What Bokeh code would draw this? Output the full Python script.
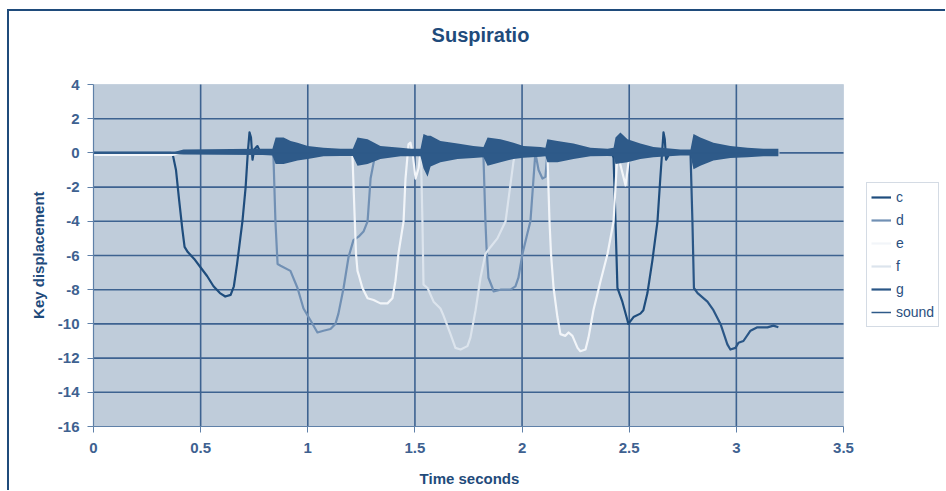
from bokeh.plotting import figure
from bokeh.models import FixedTicker, Legend, LegendItem, Label, BoxAnnotation
from bokeh.embed import file_html
from bokeh.resources import INLINE

title_text = "Suspiratio"
x_label = "Time seconds"
y_label = "Key displacement"
x_ticks = [0, 0.5, 1, 1.5, 2, 2.5, 3, 3.5]
x_tick_labels = ["0", "0.5", "1", "1.5", "2", "2.5", "3", "3.5"]
y_ticks = [4, 2, 0, -2, -4, -6, -8, -10, -12, -14, -16]
y_tick_labels = ["4", "2", "0", "-2", "-4", "-6", "-8", "-10", "-12", "-14", "-16"]
series_names = ["c", "d", "e", "f", "g", "sound"]

c_pts = [(0.0, 0.0), (0.36, 0.0), (0.37, -0.1), (0.385, -1.0), (0.40, -2.8), (0.415, -4.5),
         (0.425, -5.5), (0.44, -5.8), (0.47, -6.2), (0.50, -6.7), (0.53, -7.2), (0.56, -7.8),
         (0.59, -8.2), (0.615, -8.4), (0.64, -8.3), (0.655, -7.8), (0.67, -6.5), (0.685, -5.0),
         (0.695, -4.0), (0.71, -2.0), (0.72, 0.0), (0.728, 1.2), (0.735, 0.9), (0.742, -0.4),
         (0.75, 0.2), (0.765, 0.4), (0.78, 0.0), (2.42, 0.0), (2.427, -0.3), (2.436, -4.0),
         (2.445, -7.9), (2.468, -8.7), (2.492, -9.8), (2.496, -10.0), (2.52, -9.6), (2.552, -9.4),
         (2.566, -9.2), (2.585, -8.2), (2.608, -6.3), (2.632, -4.0), (2.645, -1.5), (2.66, 1.2),
         (2.666, 0.8), (2.672, -0.4), (2.69, 0.0), (3.2, 0.0)]

d_pts = [(0.0, 0.0), (0.835, 0.0), (0.84, -0.3), (0.849, -4.0), (0.859, -6.5), (0.873, -6.6),
         (0.919, -6.9), (0.952, -7.9), (0.98, -9.1), (1.013, -9.8), (1.045, -10.5), (1.073, -10.4),
         (1.106, -10.3), (1.129, -10.0), (1.143, -9.4), (1.167, -7.9), (1.19, -6.1), (1.213, -5.1),
         (1.237, -4.9), (1.26, -4.6), (1.279, -4.0), (1.293, -1.5), (1.316, 0.0), (1.815, 0.0),
         (1.82, -0.3), (1.829, -4.0), (1.834, -5.5), (1.843, -7.3), (1.862, -7.9), (1.867, -8.1),
         (1.899, -8.0), (1.946, -8.0), (1.969, -7.8), (1.983, -7.3), (2.002, -5.9), (2.025, -4.7),
         (2.039, -4.0), (2.062, 0.0), (2.077, -1.0), (2.095, -1.5), (2.109, -1.4), (2.118, 0.0),
         (3.2, 0.0)]

e_pts = [(0.0, -0.12), (0.37, -0.12), (0.40, 0.0), (1.208, 0.0), (1.218, -3.5), (1.225, -5.9),
         (1.232, -6.9), (1.237, -7.1), (1.255, -7.9), (1.279, -8.5), (1.307, -8.6), (1.339, -8.8),
         (1.372, -8.8), (1.395, -8.5), (1.409, -7.5), (1.423, -5.9), (1.447, -4.0), (1.456, -1.5),
         (1.47, 0.5), (1.479, 0.6), (1.489, 0.0), (1.503, -1.5), (1.517, -0.9), (1.526, 0.0),
         (2.118, 0.0), (2.128, -4.0), (2.135, -5.9), (2.147, -7.9), (2.165, -9.6), (2.179, -10.6),
         (2.202, -10.7), (2.217, -10.5), (2.235, -10.7), (2.259, -11.4), (2.272, -11.6),
         (2.296, -11.5), (2.31, -10.8), (2.333, -9.2), (2.366, -7.5), (2.399, -5.9), (2.427, -4.0),
         (2.445, 0.0), (2.465, -1.0), (2.483, -1.9), (2.496, -0.6), (2.506, 0.0), (3.2, 0.0)]

f_pts = [(0.0, 0.0), (1.528, 0.0), (1.535, -4.0), (1.54, -7.7), (1.559, -7.9), (1.587, -8.7),
         (1.619, -9.1), (1.633, -9.5), (1.666, -10.6), (1.689, -11.4), (1.713, -11.5),
         (1.745, -11.3), (1.759, -10.8), (1.783, -9.2), (1.806, -7.3), (1.829, -5.9),
         (1.853, -5.5), (1.885, -5.0), (1.923, -4.0), (1.96, -0.5), (1.969, 0.0), (3.2, 0.0)]

g_pts = [(0.0, 0.0), (2.786, 0.0), (2.795, -4.0), (2.802, -7.9), (2.819, -8.2), (2.865, -8.7),
         (2.893, -9.2), (2.926, -10.0), (2.958, -11.2), (2.972, -11.5), (2.996, -11.4),
         (3.01, -11.1), (3.033, -11.0), (3.066, -10.4), (3.098, -10.2), (3.145, -10.2),
         (3.173, -10.1), (3.196, -10.2)]

# sound waveform envelope: (time, upper, lower)
sound_env = [(0.0, 0.06, -0.06), (0.38, 0.06, -0.06), (0.42, 0.2, -0.1), (0.79, 0.25, -0.12),
             (0.835, 0.25, -0.15), (0.85, 0.9, -0.65), (0.887, 0.9, -0.65), (0.92, 0.7, -0.55),
             (0.952, 0.6, -0.45), (1.0, 0.4, -0.35), (1.073, 0.3, -0.2), (1.153, 0.25, -0.18),
             (1.21, 0.25, -0.18), (1.232, 0.9, -0.75), (1.279, 0.8, -0.65), (1.339, 0.4, -0.35),
             (1.433, 0.3, -0.2), (1.48, 0.25, -0.2), (1.526, 0.25, -0.2), (1.54, 1.1, -0.9),
             (1.559, 1.0, -1.4), (1.573, 1.0, -0.8), (1.619, 0.7, -0.55), (1.699, 0.55, -0.35),
             (1.773, 0.4, -0.3), (1.82, 0.35, -0.25), (1.839, 0.9, -0.75), (1.899, 0.8, -0.55),
             (1.96, 0.6, -0.35), (2.007, 0.4, -0.28), (2.086, 0.35, -0.22), (2.109, 0.3, -0.2),
             (2.118, 0.8, -0.55), (2.165, 0.7, -0.55), (2.24, 0.55, -0.35), (2.319, 0.3, -0.2),
             (2.399, 0.25, -0.18), (2.427, 0.3, -0.2), (2.436, 0.9, -0.65), (2.459, 1.2, -0.6),
             (2.492, 0.8, -0.55), (2.552, 0.55, -0.35), (2.613, 0.35, -0.25), (2.739, 0.2, -0.15),
             (2.786, 0.2, -0.15), (2.8, 1.1, -0.95), (2.832, 0.9, -0.75), (2.893, 0.6, -0.45),
             (2.972, 0.4, -0.3), (3.052, 0.3, -0.25), (3.126, 0.25, -0.2), (3.196, 0.25, -0.2)]

colors = {"c": "#1f4d7d", "d": "#7190b4", "e": "#f2f5f9", "f": "#dce4ed", "g": "#2a5686",
          "sound": "#2e5a89"}

TXT = "#2a4f7e"
FONT = "Liberation Sans"
FRAME = "#1f4b7b"
NBSP = "\u00a0"

# page geometry (pixels): the plot area, inside a wider drawing frame
W, H = 945, 490
PL, PR, PT, PB = 93, 843, 84, 426
x_min, x_max = x_ticks[0], x_ticks[-1]
y_min, y_max = y_ticks[-1], y_ticks[0]
x_end = x_min + (x_max - x_min) * (W - PL) / (PR - PL)
y_end = y_min + (y_max - y_min) * PB / (PB - PT)

p = figure(width=W, height=H, x_range=(x_min, x_end), y_range=(y_min, y_end),
           output_backend="svg", toolbar_location=None, title=None,
           min_border_left=PL, min_border_right=0, min_border_top=0, min_border_bottom=H - PB)
p.background_fill_color = None
p.border_fill_color = None
p.outline_line_color = None
p.styles = {
    "background-color": "white",
    "background-image": f"linear-gradient({FRAME}, {FRAME}), linear-gradient({FRAME}, {FRAME})",
    "background-size": "2px 100%, 100% 2px",
    "background-position": "7px 9px, 7px 9px",
    "background-repeat": "no-repeat",
}

# plot-area background
p.add_layout(BoxAnnotation(left=x_min, right=x_max, bottom=y_min, top=y_max,
                           fill_color="#bfccda", fill_alpha=1.0,
                           line_color="#90a6bf", line_width=1, level="underlay"))

for ax in (p.xaxis[0], p.yaxis[0]):
    ax.axis_line_color = "#5f80a8"
    ax.axis_line_width = 1.2
    ax.major_tick_line_color = "#5f80a8"
    ax.major_tick_in = 0
    ax.major_tick_out = 6
    ax.minor_tick_out = 0
    ax.minor_tick_in = 0
    ax.major_label_text_font = FONT
    ax.major_label_text_font_size = "15px"
    ax.major_label_text_font_style = "bold"
    ax.major_label_text_color = "#3e6190"
    ax.axis_label_text_font = FONT
    ax.axis_label_text_font_size = "15px"
    ax.axis_label_text_font_style = "bold"
    ax.axis_label_text_color = FRAME

p.xaxis.ticker = FixedTicker(ticks=x_ticks)
p.xaxis.major_label_overrides = dict(zip(x_ticks, x_tick_labels))
p.xaxis.bounds = (x_min, x_max)
p.yaxis.ticker = FixedTicker(ticks=y_ticks)
p.yaxis.major_label_overrides = dict(zip(y_ticks, y_tick_labels))
p.yaxis.bounds = (y_min, y_max)
p.xaxis.major_label_standoff = 10
p.yaxis.major_label_standoff = 8
# axis titles are centred on the whole drawing frame; trailing no-break spaces
# move the visible words to the centre of the plot area
p.xaxis.axis_label = x_label + NBSP * 24
p.yaxis.axis_label = y_label + NBSP * 20
p.xaxis.axis_label_standoff = 14
p.yaxis.axis_label_standoff = 8

# grid lines limited to the plot area
p.xgrid.visible = False
p.ygrid.visible = False
gx = x_ticks[1:-1]
gy = y_ticks[1:-1]
p.segment(x0=gx, y0=[y_min] * len(gx), x1=gx, y1=[y_max] * len(gx),
          line_color="#3d6290", line_width=1.6)
p.segment(x0=[x_min] * len(gy), y0=gy, x1=[x_max] * len(gy), y1=gy,
          line_color="#3d6290", line_width=1.6)

renderers = {}
for name, pts in (("c", c_pts), ("d", d_pts), ("e", e_pts), ("f", f_pts), ("g", g_pts)):
    xs = [t for t, _ in pts]
    ys = [v for _, v in pts]
    renderers[name] = p.line(xs, ys, line_color=colors[name], line_width=2.2, line_join="round")

st = [t for t, _, _ in sound_env]
shi = [h for _, h, _ in sound_env]
slo = [l for _, _, l in sound_env]
p.varea(x=st, y1=slo, y2=shi, fill_color=colors["sound"])
renderers["sound"] = p.line([st[0], st[-1]], [0, 0], line_color=colors["sound"], line_width=1.5)

legend = Legend(items=[LegendItem(label=n, renderers=[renderers[n]]) for n in series_names],
                location=(866 - PL, PB - 327))
legend.border_line_color = "#a9b8ca"
legend.border_line_width = 1
legend.background_fill_color = "white"
legend.label_text_font = FONT
legend.label_text_font_size = "14px"
legend.label_text_color = TXT
legend.glyph_width = 20
legend.glyph_height = 20
legend.label_height = 20
legend.label_standoff = 5
legend.padding = 4
legend.spacing = 3
legend.margin = 0
p.add_layout(legend, "center")

p.add_layout(Label(x=480 - PL, y=PB - 34, x_units="screen", y_units="screen", text=title_text,
                   text_align="center", text_baseline="middle", text_font=FONT,
                   text_font_size="20px", text_font_style="bold", text_color=FRAME))

open("out.html", "w").write(file_html(p, INLINE))
